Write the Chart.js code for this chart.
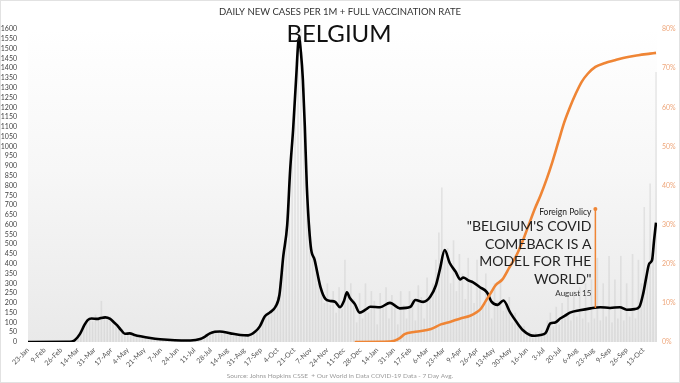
<!DOCTYPE html>
<html><head><meta charset="utf-8">
<script src="https://cdn.jsdelivr.net/npm/chart.js@4/dist/chart.umd.min.js"></script>
<style>html,body{margin:0;padding:0;background:#fff;overflow:hidden}#wrap{width:680px;height:383px}</style>
</head><body><div id="wrap"><canvas id="c" width="680" height="383"></canvas></div>
<script>
// ---- DATA (day 0 = 23-Jan-2020) ----
const tickLabels = ['23-Jan','9-Feb','26-Feb','14-Mar','31-Mar','17-Apr','4-May','21-May','7-Jun','24-Jun','11-Jul','28-Jul','14-Aug','31-Aug','17-Sep','4-Oct','21-Oct','7-Nov','24-Nov','11-Dec','28-Dec','14-Jan','31-Jan','17-Feb','6-Mar','23-Mar','9-Apr','26-Apr','13-May','30-May','16-Jun','3-Jul','20-Jul','6-Aug','23-Aug','9-Sep','26-Sep','13-Oct'];
const tickStepDays = 17;

// 7-day average of daily new cases per 1M
const caseDays = [0,40,45,48,53,58,61,65,71,74,79,84,88,91,95,99,104,109,115,125,135,150,166,176,181,186,191,196,207,217,225,232,237,242,247,253,257,261,265,268,271,274,277,279,281,283,285,289,293,299,304,309,314,319,323,326,329,334,339,345,350,360,370,380,391,396,404,411,417,421,426,431,437,442,445,450,455,462,469,474,480,486,493,500,506,513,518,524,529,534,539,544,549,554,564,575,585,595,605,612,620,625,629,632,635,638,640,642];
const caseAvg = [0,1,3,10,40,90,112,120,118,122,126,118,100,86,62,42,44,36,29,20,14,9,8,15,28,44,52,54,44,36,34,52,80,130,150,180,240,440,600,880,1085,1340,1556,1480,1340,1100,800,490,420,280,220,210,205,178,210,254,225,195,150,165,180,178,200,172,180,215,205,230,290,370,470,405,360,320,330,315,305,280,255,205,190,212,150,98,60,36,32,36,45,95,100,120,135,150,162,172,178,174,178,165,168,180,250,330,400,420,520,610];

// Fully vaccinated share of population (%)
const vaxDays = [334,370,380,385,396,412,422,432,442,452,458,463,468,473,478,485,492,500,506,512,518,524,530,536,542,548,554,560,566,572,580,590,600,612,624,636,642];
const vaxRate = [0,0.1,1.0,2.0,2.6,3.3,4.5,5.2,6.0,6.7,7.5,8.5,10.5,12.5,14.5,16,19,22.5,26,30,34,37.5,41.5,46,51,56,60,63.5,66.5,68.5,70.3,71.3,72,72.8,73.3,73.7,73.9];

// Raw daily new cases per 1M, one reading every 3 days starting day 0
const rawEveryDays = 3;
const rawDaily = [
  0,0,0,0,0,0,0,0,0,0,
  0,0,0,1,2,4,12,25,55,85,
  110,125,105,140,120,210,135,118,130,95,
  100,70,55,40,48,35,40,28,30,24,
  22,18,20,14,15,12,14,10,9,11,
  8,9,7,10,8,9,11,14,18,25,
  30,42,48,55,60,52,58,50,46,48,
  38,42,33,38,30,40,45,55,70,90,
  120,150,135,165,190,230,310,450,580,820,
  1000,1250,1500,1600,1300,850,600,430,380,300,
  260,200,300,190,260,150,280,170,420,250,
  300,220,100,250,120,300,150,260,210,90,
  250,190,280,120,240,200,90,260,190,120,
  260,220,110,290,230,120,330,220,300,420,
  560,790,420,480,300,520,260,450,350,220,
  430,310,200,420,270,180,350,250,120,300,
  210,320,160,200,230,100,150,90,60,80,
  40,55,20,50,35,60,40,110,150,80,
  180,90,200,120,240,110,260,130,280,120,
  300,100,320,120,430,110,300,130,440,100,
  320,120,440,110,300,130,450,120,420,300,
  690,350,810,500,1380
];

const annDay = 580, annTopRate = 34, annBottomCases = 174;
const annSource = 'Foreign Policy';
const annHeadline = ['"BELGIUM\'S COVID', 'COMEBACK IS A', 'MODEL FOR THE', 'WORLD"'];
const annDate = 'August 15';
const titleText = 'DAILY NEW CASES PER 1M + FULL VACCINATION RATE';
const countryText = 'BELGIUM';
const sourceText = 'Source: Johns Hopkins CSSE  + Our World in Data COVID-19 Data - 7 Day Avg.';

// ---- CHART ----
const FONT = 'Lato, "DejaVu Sans", sans-serif';
const ORANGE = '#ef8535';

const bgPlugin = {
  id: 'bg',
  beforeDraw(chart) {
    const {ctx, chartArea: a, width, height} = chart;
    ctx.save();
    ctx.fillStyle = '#fff';
    ctx.fillRect(0, 0, width, height);
    const g = ctx.createLinearGradient(0, a.top, 0, a.bottom);
    g.addColorStop(0, '#ffffff');
    g.addColorStop(0.45, '#f7f7f7');
    g.addColorStop(1, '#e9e9e9');
    ctx.fillStyle = g;
    ctx.fillRect(a.left, a.top, a.right - a.left, a.bottom - a.top);
    ctx.restore();
  },
  afterDraw(chart) {
    const {ctx, width, height} = chart;
    const xs = chart.scales.x, ys = chart.scales.y, y2 = chart.scales.y2;
    ctx.save();
    ctx.strokeStyle = '#e2e2e2';
    ctx.lineWidth = 1;
    ctx.strokeRect(0.5, 0.5, width - 1, height - 1);
    ctx.textAlign = 'center';
    ctx.textBaseline = 'middle';
    ctx.fillStyle = '#333';
    ctx.font = '9.5px ' + FONT;
    ctx.fillText(titleText, 340, 12);
    ctx.fillStyle = '#111';
    ctx.font = '24px ' + FONT;
    ctx.fillText(countryText, 339, 34);
    ctx.fillStyle = '#9a9a9a';
    ctx.font = '6.5px ' + FONT;
    ctx.fillText(sourceText, 340, 376);

    // annotation
    const ax = xs.getPixelForValue(annDay);
    const aTop = y2.getPixelForValue(annTopRate);
    const aBot = ys.getPixelForValue(annBottomCases);
    ctx.strokeStyle = ORANGE;
    ctx.lineWidth = 1.5;
    ctx.beginPath();
    ctx.moveTo(ax, aTop);
    ctx.lineTo(ax, aBot);
    ctx.stroke();
    ctx.fillStyle = ORANGE;
    ctx.beginPath();
    ctx.arc(ax, aTop, 2, 0, Math.PI * 2);
    ctx.fill();
    const tx = ax - 4;
    ctx.textAlign = 'right';
    ctx.fillStyle = '#222';
    ctx.font = '8.5px ' + FONT;
    ctx.fillText(annSource, tx, aTop + 3);
    ctx.font = '14px ' + FONT;
    annHeadline.forEach((t, i) => ctx.fillText(t, tx, aTop + 18 + i * 17.5));
    ctx.fillStyle = '#333';
    ctx.font = '8px ' + FONT;
    ctx.fillText(annDate, tx, aTop + 84);
    ctx.restore();
  }
};

new Chart(document.getElementById('c'), {
  data: {
    datasets: [
      {
        type: 'line', label: 'Vaccination', yAxisID: 'y2', order: 1,
        data: vaxDays.map((d, i) => ({x: d, y: vaxRate[i]})),
        borderColor: ORANGE, borderWidth: 2.6, pointRadius: 0,
        cubicInterpolationMode: 'monotone', fill: false
      },
      {
        type: 'line', label: 'Cases 7-day', yAxisID: 'y', order: 2,
        data: caseDays.map((d, i) => ({x: d, y: caseAvg[i]})),
        borderColor: '#000', borderWidth: 2.6, pointRadius: 0,
        cubicInterpolationMode: 'monotone', fill: false
      },
      {
        type: 'bar', label: 'Cases daily', yAxisID: 'y', order: 3,
        data: rawDaily.map((v, i) => ({x: i * rawEveryDays, y: v})),
        backgroundColor: 'rgba(185,185,185,0.3)', borderWidth: 0,
        barPercentage: 0.55, categoryPercentage: 1
      }
    ]
  },
  options: {
    responsive: false, animation: false, devicePixelRatio: 1,
    layout: {padding: {top: 29, left: 0, right: 0, bottom: 0}},
    plugins: {legend: {display: false}, tooltip: {enabled: false}, title: {display: false}},
    scales: {
      x: {
        type: 'linear', min: 0, max: 643, offset: false,
        grid: {display: false, drawTicks: false}, border: {display: false},
        afterFit(s) { s.height = 41; },
        ticks: {
          stepSize: tickStepDays, includeBounds: false, autoSkip: false,
          minRotation: 45, maxRotation: 45, padding: 4,
          color: '#555', font: {family: FONT, size: 7},
          callback: (v) => tickLabels[Math.round(v / tickStepDays)] ?? ''
        }
      },
      y: {
        position: 'left', min: 0, max: 1600,
        grid: {display: false, drawTicks: false}, border: {display: false},
        afterFit(s) { s.width = 28; },
        ticks: {stepSize: 50, autoSkip: false, padding: 11, color: '#444', font: {family: FONT, size: 7},
          callback: (v) => String(v)}
      },
      y2: {
        position: 'right', min: 0, max: 80,
        grid: {display: false, drawTicks: false}, border: {display: false},
        afterFit(s) { s.width = 23; },
        ticks: {stepSize: 10, autoSkip: false, padding: 5, color: '#eea67a', font: {family: FONT, size: 7},
          callback: (v) => v + '%'}
      }
    }
  },
  plugins: [bgPlugin]
});
</script>
</body></html>
